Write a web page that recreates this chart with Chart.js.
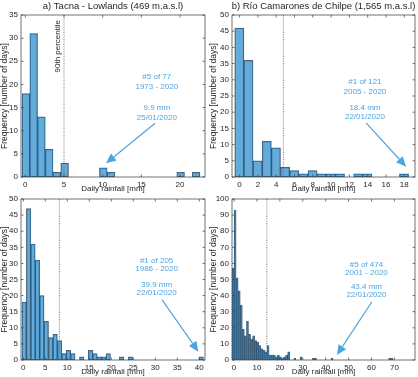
<!DOCTYPE html>
<html>
<head>
<meta charset="utf-8">
<script src="https://cdn.jsdelivr.net/npm/chart.js@4.4.1/dist/chart.umd.min.js"></script>
<style>
  body { margin: 0; background: #fff; }
  #wrap { position: relative; width: 418px; height: 377px; }
  canvas { position: absolute; }
</style>
</head>
<body>
<div id="wrap">
  <canvas id="pa" width="209" height="195" style="left:0;top:0"></canvas>
  <canvas id="pb" width="209" height="195" style="left:209px;top:0"></canvas>
  <canvas id="pc" width="209" height="192" style="left:0;top:185px"></canvas>
  <canvas id="pd" width="209" height="192" style="left:209px;top:185px"></canvas>
</div>
<script>
// histogram counts per bin (days)
const aTitle = "a) Tacna - Lowlands (469 m.a.s.l)";
const aBinStart = 0.08, aBinWidth = 1;
const aCounts = [18, 31, 13, 6, 1, 3, 0, 0, 0, 0, 2, 1, 0, 0, 0, 0, 0, 0, 0, 0, 1, 0, 1];
const aTicks = [0, 5, 10, 15, 20];
const aNotes = ["#5 of 77", "1973 - 2020", "9.9 mm", "25/01/2020"];

const bTitle = "b) Río Camarones de Chilpe (1,565 m.a.s.l)";
const bBinStart = -0.03, bBinWidth = 1;
const bCounts = [46, 36, 5, 11, 9, 3, 2, 1, 2, 1, 1, 1, 0, 1, 1, 0, 0, 0, 1];
const bTicks = [0, 2, 4, 6, 8, 10, 12, 14, 16, 18];
const bNotes = ["#1 of 121", "2005 - 2020", "18.4 mm", "22/01/2020"];

const cBinStart = 0.2, cBinWidth = 1.006;
const cCounts = [18, 47, 36, 31, 20, 12, 7, 8, 6, 2, 3, 2, 0, 1, 0, 3, 2, 1, 1, 2,
  0, 0, 1, 0, 1, 0, 0, 0, 0, 0, 0, 0, 0, 0, 0, 0, 0, 0, 0, 0, 1];
const cTicks = [0, 5, 10, 15, 20, 25, 30, 35, 40];
const cNotes = ["#1 of 205", "1986 - 2020", "39.9 mm", "22/01/2020"];

const dBinStart = -0.45, dBinWidth = 0.9;
const dCounts = [57, 93, 51, 43, 34, 19, 15, 24, 16, 13, 15, 12, 11, 9, 7, 6, 5, 9, 3, 3,
  3, 2, 3, 2, 1, 2, 3, 5, 0, 0, 1, 0, 0, 2, 0, 0, 0, 0, 0, 1,
  1, 0, 0, 0, 0, 0, 0, 0, 1, 0, 0, 0, 0, 0, 0, 0, 0, 0, 0, 0,
  0, 0, 0, 0, 0, 0, 0, 0, 0, 0, 0, 0, 0, 0, 0, 0, 1, 1];
const dTicks = [0, 10, 20, 30, 40, 50, 60, 70];
const dNotes = ["#5 of 474", "2001 - 2020", "43.4 mm", "22/01/2020"];

const FONT = "'Liberation Sans', Arial, sans-serif";
const INK = "#262626";
const NOTE = "#4ea4dd";

const matlabAxes = {
  id: "matlabAxes",
  afterDatasetsDraw(chart, args, o) {
    const { ctx, chartArea: a, scales: { x, y } } = chart;
    ctx.save();

    // 90th percentile line
    const px = x.getPixelForValue(o.vline);
    ctx.strokeStyle = "#666";
    ctx.lineWidth = 0.8;
    ctx.setLineDash([1.2, 1.2]);
    ctx.beginPath();
    ctx.moveTo(px, a.top);
    ctx.lineTo(px, a.bottom);
    ctx.stroke();
    ctx.setLineDash([]);
    if (o.vlabel) {
      ctx.save();
      ctx.translate(px - 6, a.top + 5);
      ctx.rotate(-Math.PI / 2);
      ctx.fillStyle = INK;
      ctx.font = "8px " + FONT;
      ctx.textAlign = "right";
      ctx.textBaseline = "middle";
      ctx.fillText(o.vlabel, 0, 0);
      ctx.restore();
    }

    // record text
    ctx.fillStyle = NOTE;
    ctx.font = "8px " + FONT;
    ctx.textAlign = "center";
    ctx.textBaseline = "middle";
    o.notes.forEach((t, i) => {
      ctx.fillText(t, x.getPixelForValue(o.noteX), y.getPixelForValue(o.noteY[i]));
    });

    // arrow
    const x0 = x.getPixelForValue(o.arrow[0]), y0 = y.getPixelForValue(o.arrow[1]);
    const x1 = x.getPixelForValue(o.arrow[2]), y1 = y.getPixelForValue(o.arrow[3]);
    const ang = Math.atan2(y1 - y0, x1 - x0);
    const hl = 10, hw = 4.5;
    const bx = x1 - hl * Math.cos(ang), by = y1 - hl * Math.sin(ang);
    ctx.strokeStyle = NOTE;
    ctx.lineWidth = 1.2;
    ctx.beginPath();
    ctx.moveTo(x0, y0);
    ctx.lineTo(bx, by);
    ctx.stroke();
    ctx.beginPath();
    ctx.moveTo(x1, y1);
    ctx.lineTo(bx + hw * Math.sin(ang), by - hw * Math.cos(ang));
    ctx.lineTo(bx - hw * Math.sin(ang), by + hw * Math.cos(ang));
    ctx.closePath();
    ctx.fill();

    // box with inward ticks
    ctx.strokeStyle = "#444";
    ctx.lineWidth = 0.75;
    ctx.strokeRect(a.left, a.top, a.right - a.left, a.bottom - a.top);
    ctx.beginPath();
    x.ticks.forEach(t => {
      const p = x.getPixelForValue(t.value);
      ctx.moveTo(p, a.bottom); ctx.lineTo(p, a.bottom - 2.5);
      ctx.moveTo(p, a.top); ctx.lineTo(p, a.top + 2.5);
    });
    y.ticks.forEach(t => {
      const p = y.getPixelForValue(t.value);
      ctx.moveTo(a.left, p); ctx.lineTo(a.left + 2.5, p);
      ctx.moveTo(a.right, p); ctx.lineTo(a.right - 2.5, p);
    });
    ctx.stroke();

    // panel title
    if (o.title) {
      ctx.fillStyle = INK;
      ctx.font = "9.5px " + FONT;
      ctx.textAlign = "center";
      ctx.textBaseline = "middle";
      ctx.fillText(o.title, (a.left + a.right) / 2, 6);
    }
    ctx.restore();
  }
};

function makePanel(id, p) {
  const data = [];
  p.counts.forEach((c, i) => {
    if (c > 0) data.push({ x: p.start + i * p.width, y: c });
  });
  new Chart(document.getElementById(id), {
    type: "bar",
    data: {
      datasets: [{
        data: data,
        backgroundColor: "rgba(0,114,189,0.6)",
        borderColor: "rgba(30,50,70,0.75)",
        borderWidth: 0.6,
        borderSkipped: false,
        barPercentage: 1,
        categoryPercentage: 1
      }]
    },
    plugins: [matlabAxes],
    options: {
      responsive: false,
      animation: false,
      events: [],
      layout: { padding: { left: 0, top: p.top, right: p.right, bottom: 0 } },
      plugins: {
        legend: { display: false },
        tooltip: { enabled: false },
        matlabAxes: {
          title: p.title, vline: p.vline, vlabel: p.vlabel,
          notes: p.notes, noteX: p.noteX, noteY: p.noteY, arrow: p.arrow
        }
      },
      scales: {
        x: {
          type: "linear",
          offset: false,
          min: p.xmin, max: p.xmax,
          afterBuildTicks: s => { s.ticks = p.xticks.map(v => ({ value: v })); },
          afterFit: s => { s.height = p.xh; },
          grid: { display: false, drawTicks: false, offset: false },
          border: { display: false },
          ticks: { padding: 3, color: INK, font: { family: FONT, size: 8 }, maxRotation: 0, autoSkip: false },
          title: { display: true, text: "Daily rainfall [mm]", color: INK, font: { family: FONT, size: 8 }, padding: { top: 0, bottom: p.xtpad } }
        },
        y: {
          min: 0, max: p.ymax,
          afterFit: s => { s.width = p.yw; },
          grid: { display: false, drawTicks: false },
          border: { display: false },
          ticks: { stepSize: p.ystep, padding: 3, color: INK, font: { family: FONT, size: 8 } },
          title: { display: true, text: "Frequency [number of days]", color: INK, font: { family: FONT, size: 8.5 }, padding: 0 }
        }
      }
    }
  });
}

makePanel("pa", {
  counts: aCounts, start: aBinStart, width: aBinWidth, title: aTitle,
  xmin: -0.56, xmax: 23.23, xticks: aTicks, ymax: 35, ystep: 5,
  top: 15, right: 4, yw: 21, xh: 18, xtpad: 1.5,
  vline: 5.0, vlabel: "90th percentile",
  notes: aNotes, noteX: 17, noteY: [21.6, 19.4, 14.9, 12.7],
  arrow: [16.77, 11.6, 10.43, 2.96]
});

makePanel("pb", {
  counts: bCounts, start: bBinStart, width: bBinWidth, title: bTitle,
  xmin: -0.83, xmax: 19.17, xticks: bTicks, ymax: 50, ystep: 5,
  top: 15, right: 3, yw: 23, xh: 18, xtpad: 1.5,
  vline: 4.78, vlabel: "",
  notes: bNotes, noteX: 13.7, noteY: [29.3, 26.2, 21.3, 18.5],
  arrow: [13.85, 16.6, 18.2, 3.2]
});

makePanel("pc", {
  counts: cCounts, start: cBinStart, width: cBinWidth, title: "",
  xmin: -0.52, xmax: 41.3, xticks: cTicks, ymax: 50, ystep: 5,
  top: 14, right: 4, yw: 21, xh: 17, xtpad: 0,
  vline: 8.2, vlabel: "",
  notes: cNotes, noteX: 30.3, noteY: [30.9, 28.4, 23.4, 20.8],
  arrow: [31.5, 18.75, 39.8, 2.6]
});

makePanel("pd", {
  counts: dCounts, start: dBinStart, width: dBinWidth, title: "",
  xmin: -0.9, xmax: 79, xticks: dTicks, ymax: 100, ystep: 10,
  top: 14, right: 3, yw: 23, xh: 17, xtpad: 0,
  vline: 14.3, vlabel: "",
  notes: dNotes, noteX: 57.8, noteY: [59, 54.4, 45.5, 40.4],
  arrow: [60.2, 36.2, 44.9, 3.1]
});
</script>
</body>
</html>
